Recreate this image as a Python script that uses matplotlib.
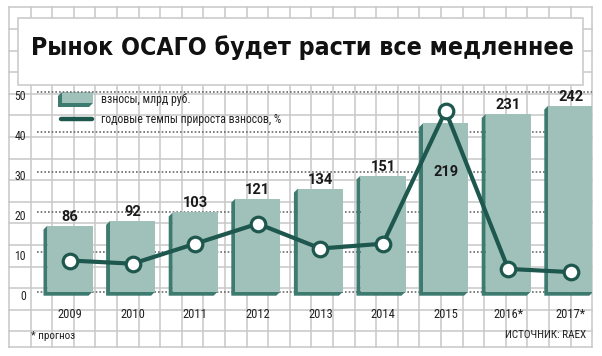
import matplotlib
matplotlib.use('Agg')
import matplotlib.pyplot as plt
from matplotlib.patches import Rectangle, Polygon
from matplotlib.transforms import ScaledTranslation
import numpy as np

# Данные
years = ['2009', '2010', '2011', '2012', '2013', '2014', '2015', '2016*', '2017*']
premiums = [86, 92, 103, 121, 134, 151, 219, 231, 242]       # взносы, млрд руб.
growth = [7.8, 7.0, 12.0, 17.0, 10.8, 12.0, 45.2, 5.7, 4.9]  # темпы прироста, %
yticks = [0, 10, 20, 30, 40, 50]

barScale = 5.2  # млрд руб. на одно деление шкалы процентов

colorFace = '#a0c1ba'
colorSide = '#3d7b70'
colorLine = '#1e574e'
colorGrid = '#c8c8c8'

W, H = 602, 356
fig = plt.figure(figsize=(W / 100, H / 100), dpi=100)

# Фон в клетку (в пикселях)
bg = fig.add_axes([0, 0, 1, 1], zorder=0)
bg.set_xlim(0, W)
bg.set_ylim(H, 0)
bg.axis('off')
step = 21.6
for x in np.arange(9, 593, step):
    bg.plot([x, x], [7.3, 346.5], color=colorGrid, lw=1.1, zorder=1)
for y in np.arange(7.3, 340, step):
    bg.plot([9, 592.2], [y, y], color=colorGrid, lw=1.1, zorder=1)
bg.plot([9, 592.2], [346.5, 346.5], color=colorGrid, lw=1.1, zorder=1)

# Плашка заголовка
bg.add_patch(Rectangle((18, 18), 565, 67, facecolor='white', edgecolor=colorGrid, lw=1.1, zorder=2))
bg.text(31, 55, 'Рынок ОСАГО будет расти все медленнее', fontsize=17.8,
        family='DejaVu Sans', fontstretch='condensed', fontweight='bold', color='#111111',
        va='baseline', ha='left', zorder=3)

# Основные оси
left, right = 37, 592
top, bottom = 82, 305
zeroPx, pxPerUnit = 291.7, 4.0
ax = fig.add_axes([left / W, 1 - bottom / H, (right - left) / W, (bottom - top) / H], zorder=1)
ax.patch.set_alpha(0)
xStart, xStep = 70, 62.6
ax.set_xlim((left - xStart) / xStep, (right - xStart) / xStep)
ax.set_ylim((zeroPx - bottom) / pxPerUnit, (zeroPx - top) / pxPerUnit)
for s in ax.spines.values():
    s.set_visible(False)

for v in yticks:
    ax.axhline(v, color='#6b6b6b', lw=1.2, ls=(0, (1, 1.2)), zorder=1)

x = np.arange(len(years))
barW = 45 / xStep
dx = 4 / xStep
dy = 4 / pxPerUnit
heights = [p / barScale for p in premiums]
for xi, h in zip(x, heights):
    x0, x1 = xi - barW / 2, xi + barW / 2
    ax.add_patch(Polygon([(x0, h), (x0 - dx, h - dy), (x0 - dx, -dy), (x1 - dx, -dy), (x1, 0), (x0, 0)],
                         closed=True, facecolor=colorSide, edgecolor='none', zorder=2))
ax.bar(x, heights, width=barW, color=colorFace, zorder=3)

for xi, h, p, yr in zip(x, heights, premiums, years):
    if yr == '2015':
        ax.annotate(str(p), (xi, h), xytext=(0, -35), textcoords='offset points',
                    ha='center', va='center', fontsize=10.5, family='Roboto', fontweight='bold',
                    color='#1a1a1a', zorder=6)
    else:
        ax.annotate(str(p), (xi, h), xytext=(0, 6.5), textcoords='offset points',
                    ha='center', va='center', fontsize=10.5, family='Roboto', fontweight='bold',
                    color='#1a1a1a', zorder=6)

ax.plot(x, growth, color=colorLine, lw=3, zorder=4, solid_capstyle='round')
ax.plot(x, growth, 'o', ms=10.5, mfc='white', mec=colorLine, mew=2.3, zorder=5)

ax.set_yticks(yticks)
ax.set_yticklabels([str(v) for v in yticks], family='Roboto Condensed', fontsize=8.5, color='#222222')
ax.tick_params(axis='y', length=0, pad=8)
for lab in ax.get_yticklabels():
    lab.set_transform(lab.get_transform() + ScaledTranslation(0, -3 / 100, fig.dpi_scale_trans))
ax.set_xticks(x)
ax.set_xticklabels(years, family='Roboto Condensed', fontsize=9, color='#222222')
ax.tick_params(axis='x', length=0, pad=2.5)

# Легенда
bg.add_patch(Polygon([(62, 92), (58, 96), (58, 107), (89, 107), (93, 103), (62, 103)],
                     closed=True, facecolor=colorSide, edgecolor='none', zorder=4))
bg.add_patch(Rectangle((62, 92), 31, 11, facecolor=colorFace, edgecolor='none', zorder=5))
bg.plot([61, 92], [119, 119], color=colorLine, lw=3.2, solid_capstyle='round', zorder=5)
bg.text(101, 99, 'взносы, млрд руб.', fontsize=8.5, family='Roboto Condensed',
        color='#222222', va='center', ha='left', zorder=5)
bg.text(101, 120, 'годовые темпы прироста взносов, %', fontsize=8.5, family='Roboto Condensed',
        color='#222222', va='center', ha='left', zorder=5)

bg.text(31, 336, '* прогноз', fontsize=8, family='Roboto Condensed',
        color='#222222', va='center', ha='left', zorder=5)
bg.text(586, 335, 'ИСТОЧНИК: RAEX', fontsize=8, family='Roboto Condensed',
        color='#222222', va='center', ha='right', zorder=5)

fig.savefig('out.png', dpi=100)
